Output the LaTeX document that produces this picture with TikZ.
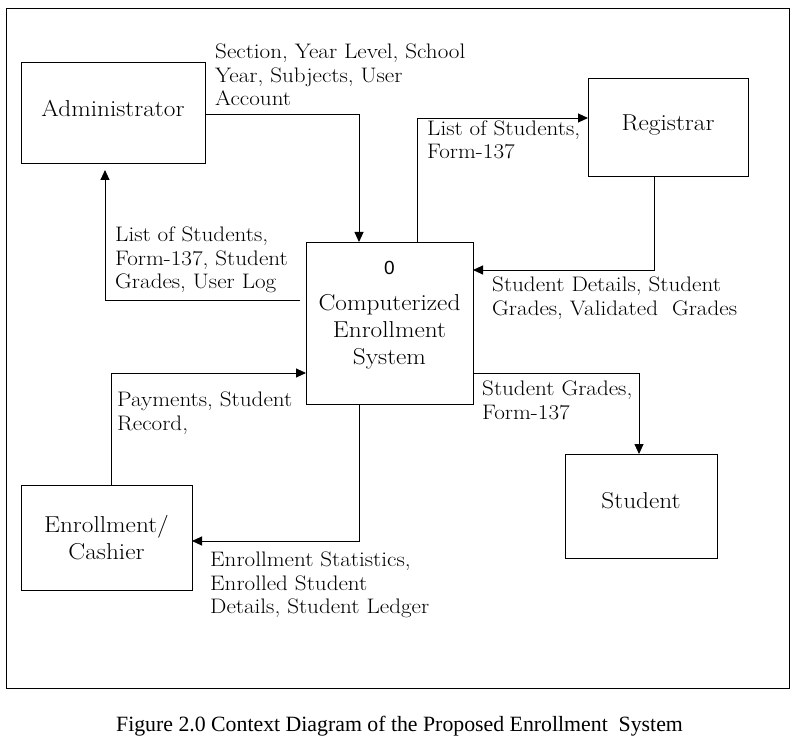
\documentclass[tikz,border=0pt]{standalone}
\usepackage{fontspec}
\setmainfont{Latin Modern Roman}[FakeStretch=1.1]
\newfontfamily\capfont{Liberation Serif}
\newfontfamily\zerofont{Liberation Sans}
\usetikzlibrary{arrows.meta}
\begin{document}
\begin{tikzpicture}[x=1pt,y=-1pt,
  box/.style={draw, line width=0.9pt, inner sep=0pt, outer sep=0pt},
  lbl/.style={anchor=base west, align=left, inner sep=0pt, font=\fontsize{21}{23.3}\selectfont},
  btxt/.style={anchor=base, align=center, inner sep=0pt, font=\fontsize{23}{26.8}\selectfont},
  flow/.style={line width=0.9pt, -{Triangle[length=10pt,width=9pt]}}]
\useasboundingbox (0,0) rectangle (798,738);
\draw[line width=0.9pt] (6,8) rectangle (789,688);
% boxes
\node[box, minimum width=184pt, minimum height=101pt] (adm) at (113,112.5) {};
\node[box, minimum width=160pt, minimum height=98pt] (reg) at (668,127) {};
\node[box, minimum width=167pt, minimum height=162pt] (c) at (389.5,323) {};
\node[box, minimum width=171pt, minimum height=105pt] (cash) at (106.5,537.5) {};
\node[box, minimum width=152pt, minimum height=104pt] (stu) at (641,506) {};
% box texts (anchor = baseline of last line)
\node[btxt] (admt) at (113,117) {Administrator};
\node[btxt] (regt) at (668,131) {Registrar};
\node[anchor=base, inner sep=0pt, font=\zerofont\fontsize{19}{22}\selectfont] (czero) at (389.5,274) {0};
\node[btxt] (ct) at (389.5,364) {Computerized\\Enrollment\\System};
\node[btxt] (casht) at (106.5,559) {Enrollment/\\Cashier};
\node[btxt] (stut) at (641,508) {Student};
% connectors
\draw[flow] ([yshift=-1.5pt]adm.east) -| ([xshift=-30.5pt]c.north);
\draw[flow] ([xshift=-6pt,yshift=23pt]c.west) -| ([xshift=-8pt,yshift=-7pt]adm.south);
\draw[flow] ([xshift=27.5pt]c.north) |- ([yshift=9pt]reg.west);
\draw[flow] ([xshift=-14pt]reg.south) |- ([yshift=53pt]c.east);
\draw[flow] ([yshift=-50pt]c.east) -| ([xshift=-2pt]stu.north);
\draw[flow] ([xshift=4.5pt]cash.north) |- ([yshift=-50pt]c.west);
\draw[flow] ([xshift=-30.5pt]c.south) |- ([yshift=-3.5pt]cash.east);
% labels (anchor = baseline of last line)
\node[lbl] (l1) at (215,105.5) {Section, Year Level, School\\Year, Subjects, User\\Account};
\node[lbl] (l2) at (115,288.5) {List of Students,\\Form-137, Student\\Grades, User Log};
\node[lbl] (l3) at (427,159) {List of Students,\\Form-137};
\node[lbl] (l4) at (492,315) {Student Details, Student\\Grades, Validated\ \ Grades};
\node[lbl] (l5) at (482,419) {Student Grades,\\Form-137};
\node[lbl] (l6) at (117,430) {Payments, Student\\Record,};
\node[lbl] (l7) at (210,613.5) {Enrollment Statistics,\\Enrolled Student\\Details, Student Ledger};
% caption
\node[anchor=base, inner sep=0pt, font=\capfont\fontsize{21.8}{26}\selectfont] (cap) at (399.5,731) {Figure 2.0 Context Diagram of the Proposed Enrollment\ \ System};
\end{tikzpicture}
\end{document}
